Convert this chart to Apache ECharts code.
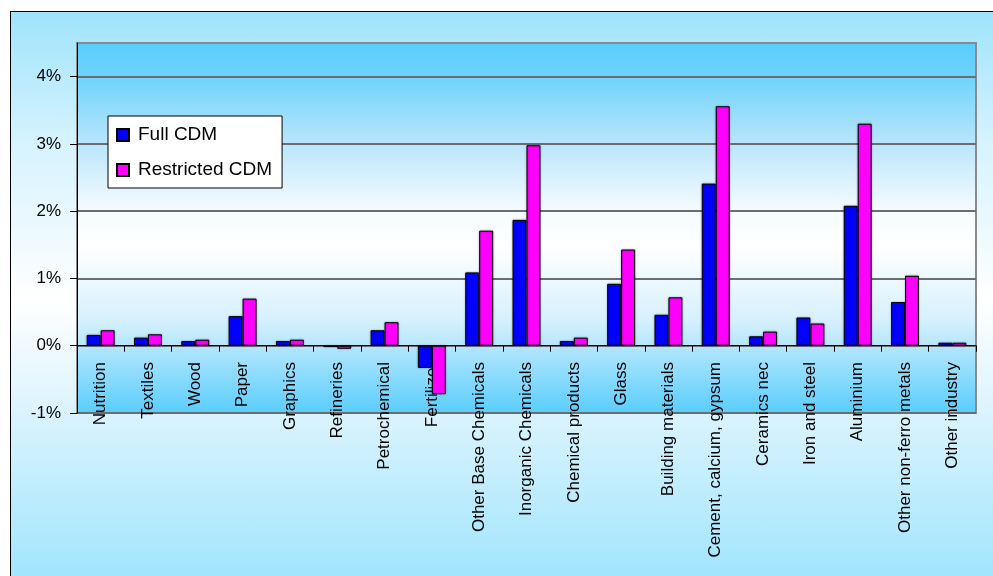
<!DOCTYPE html>
<html>
<head>
<meta charset="utf-8">
<script src="https://cdn.jsdelivr.net/npm/echarts@6/dist/echarts.min.js"></script>
<style>
  html, body { margin: 0; padding: 0; width: 993px; height: 576px; overflow: hidden; background: #ffffff; }
  #frame { position: absolute; left: 10px; top: 11px; width: 1000px; height: 600px;
    border-left: 1px solid #000; border-top: 1px solid #000;
    background: linear-gradient(to bottom, #9fe3fc 0%, #d6f3fe 22%, #ffffff 48%, #e4f6fe 62%, #a2e5fd 94%, #a2e5fd 100%); }
  #chart { position: absolute; left: 0; top: 0; width: 993px; height: 576px; }
</style>
</head>
<body>
<div id="frame"></div>
<div id="chart"></div>
<script>
const categories = ["Nutrition", "Textiles", "Wood", "Paper", "Graphics", "Refineries", "Petrochemical", "Fertilizer",
  "Other Base Chemicals", "Inorganic Chemicals", "Chemical products", "Glass", "Building materials",
  "Cement, calcium, gypsum", "Ceramics nec", "Iron and steel", "Aluminium", "Other non-ferro metals", "Other industry"];
const fullCDM = [0.16, 0.12, 0.07, 0.44, 0.07, -0.02, 0.23, -0.33, 1.09, 1.87, 0.07, 0.92, 0.46, 2.41, 0.14, 0.42, 2.08, 0.65, 0.045];
const restrictedCDM = [0.23, 0.17, 0.09, 0.70, 0.09, -0.045, 0.35, -0.72, 1.71, 2.98, 0.12, 1.43, 0.72, 3.56, 0.21, 0.33, 3.30, 1.04, 0.045];
const yTicks = [-1, 0, 1, 2, 3, 4];
const seriesNames = ["Full CDM", "Restricted CDM"];

const font = "Liberation Sans, Arial, sans-serif";
const chart = echarts.init(document.getElementById('chart'), null, { renderer: 'canvas' });
const barStyle = (c) => ({ color: c, borderColor: '#000', borderWidth: 1, shadowColor: 'rgba(0,0,0,0.35)', shadowBlur: 2 });

chart.setOption({
  animation: false,
  backgroundColor: 'transparent',
  grid: {
    left: 77, top: 43, right: 17, bottom: 163,
    outerBoundsMode: 'none', containLabel: false,
    show: true, borderColor: '#8a8a8a', borderWidth: 2,
    backgroundColor: new echarts.graphic.LinearGradient(0, 0, 0, 1, [
      { offset: 0, color: '#58cdfd' },
      { offset: 0.093, color: '#6ed3fc' },
      { offset: 0.27, color: '#b8e5fb' },
      { offset: 0.45, color: '#f5fbff' },
      { offset: 0.55, color: '#ffffff' },
      { offset: 0.75, color: '#d5f0fd' },
      { offset: 0.82, color: '#b3e6fc' },
      { offset: 1, color: '#58cdfd' }
    ])
  },
  legend: {
    orient: 'vertical', left: 108, top: 116,
    backgroundColor: '#ffffff', borderColor: '#000', borderWidth: 1,
    padding: [9, 10, 8, 8], itemGap: 15, itemWidth: 12, itemHeight: 12,
    icon: 'rect',
    textStyle: { fontFamily: font, fontSize: 19, color: '#000', lineHeight: 20, padding: [0, 0, 0, 4] },
    data: seriesNames
  },
  xAxis: {
    type: 'category', data: categories,
    axisLine: { onZero: true, lineStyle: { color: '#000', width: 1 } },
    axisTick: { show: true, length: 6, lineStyle: { color: '#000' } },
    axisLabel: { interval: 0, rotate: 90, margin: -51, padding: [0, 0, 5, 0], fontFamily: font, fontSize: 17, color: '#000' },
    splitLine: { show: false }
  },
  yAxis: {
    type: 'value', min: -1, max: 4.5, interval: 1,
    axisLine: { show: true, lineStyle: { color: '#000', width: 1 } },
    axisTick: { show: true, length: 7, lineStyle: { color: '#000' }, customValues: yTicks },
    axisLabel: { margin: 16, fontFamily: font, fontSize: 17, color: '#000', customValues: yTicks,
      formatter: (v) => v + '%' },
    splitLine: { show: true, lineStyle: { color: '#6a6e72', width: 2 } }
  },
  series: [
    { name: seriesNames[0], type: 'bar', data: fullCDM, barGap: '0%', barCategoryGap: '41%', itemStyle: barStyle('#0000ff') },
    { name: seriesNames[1], type: 'bar', data: restrictedCDM, barGap: '0%', barCategoryGap: '41%', itemStyle: barStyle('#ff00ff') }
  ]
});
</script>
</body>
</html>
